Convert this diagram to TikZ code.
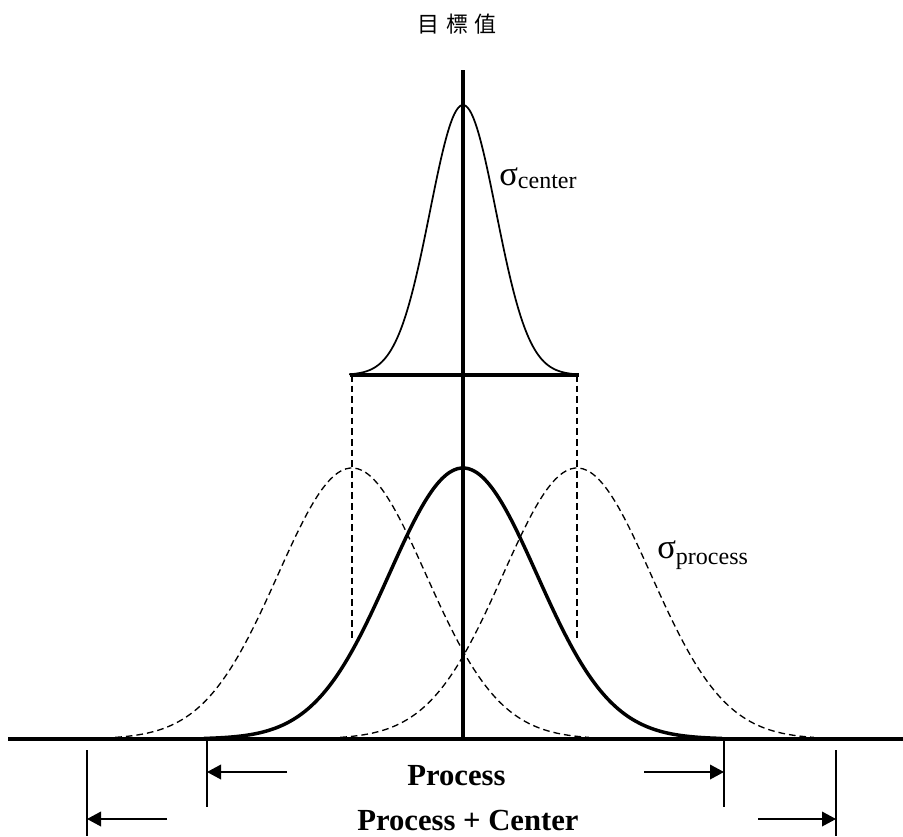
\documentclass[tikz,border=0pt]{standalone}
\usepackage{fontspec}
\setmainfont{Liberation Serif}
\newfontfamily\cjk{Noto Sans CJK TC}
\usetikzlibrary{arrows.meta}
\begin{document}
\begin{tikzpicture}[x=0.75pt,y=-0.75pt,
  thickline/.style={line width=2.4pt},
  thinline/.style={line width=1.2pt},
  dimarrow/.style={line width=1.1pt,-{Triangle[length=10.5pt,width=11pt]}},
  dashcurve/.style={line width=1pt,dash pattern=on 5pt off 3pt},
  txt/.style={inner sep=0pt,anchor=base west},
  sigmatxt/.style={txt,font=\fontsize{26}{30}\selectfont},
  boldtxt/.style={txt,font=\bfseries\fontsize{23}{28}\selectfont},
]
\useasboundingbox (0,0) rectangle (903,836);

% title
\node[inner sep=0pt] (title) at (457,24) {\cjk\fontsize{16.5}{20}\selectfont 目\hspace{5pt}標\hspace{5pt}值};

% dashed shifted distributions
\draw[dashcurve] plot[domain=-3.2:3.2,samples=120,smooth] ({352+74*\x},{739-271*exp(-\x*\x/2)});
\draw[dashcurve] plot[domain=-3.2:3.2,samples=120,smooth] ({577+74*\x},{739-271*exp(-\x*\x/2)});

% dashed projection lines
\coordinate (barL) at (352,375);
\coordinate (barR) at (577,375);
\coordinate (projL) at (352,640);
\coordinate (projR) at (577,640);
\draw[dashcurve] (barL) -- (projL);
\draw[dashcurve] (barR) -- (projR);

% bold process distribution
\draw[line width=2.6pt,line join=round] plot[domain=-3.5:3.5,samples=140,smooth] ({463+74*\x},{739-271*exp(-\x*\x/2)});

% narrow center distribution
\draw[line width=1.3pt] plot[domain=-3.45:3.45,samples=120,smooth] ({463+33*\x},{375-270*exp(-\x*\x/2)});
\draw[thickline] (350,375) -- (579,375);

% axes
\coordinate (axTop) at (463,70);
\coordinate (axBot) at (463,740);
\draw[line width=2.8pt] (axTop) -- (axBot);
\coordinate (baseL) at (8,739);
\coordinate (baseR) at (903,739);
\draw[thickline] (baseL) -- (baseR);

% ticks
\coordinate (tIL) at (207,740); \coordinate (tILb) at (207,807);
\coordinate (tIR) at (724,740); \coordinate (tIRb) at (724,807);
\coordinate (tOL) at (87,750);  \coordinate (tOLb) at (87,836);
\coordinate (tOR) at (836,750); \coordinate (tORb) at (836,836);
\draw[thinline] (tIL) -- (tILb);
\draw[thinline] (tIR) -- (tIRb);
\draw[thinline] (tOL) -- (tOLb);
\draw[thinline] (tOR) -- (tORb);

% arrows
\coordinate (aIL) at (287,772); \coordinate (aILe) at (207,772);
\coordinate (aIR) at (644,772); \coordinate (aIRe) at (724,772);
\coordinate (aOL) at (167,819); \coordinate (aOLe) at (87,819);
\coordinate (aOR) at (758,819); \coordinate (aORe) at (836,819);
\draw[dimarrow] (aIL) -- (aILe);
\draw[dimarrow] (aIR) -- (aIRe);
\draw[dimarrow] (aOL) -- (aOLe);
\draw[dimarrow] (aOR) -- (aORe);

% labels
\node[sigmatxt] (scenter) at (499,185) {σ\raisebox{-2.5pt}{\fontsize{18}{20}\selectfont center}};
\node[sigmatxt] (sprocess) at (657,558) {σ\raisebox{-4.5pt}{\fontsize{18}{20}\selectfont process}};
\node[boldtxt] (lproc) at (407,785) {Process};
\node[boldtxt] (lprocc) at (357,830) {Process + Center};
\end{tikzpicture}
\end{document}
